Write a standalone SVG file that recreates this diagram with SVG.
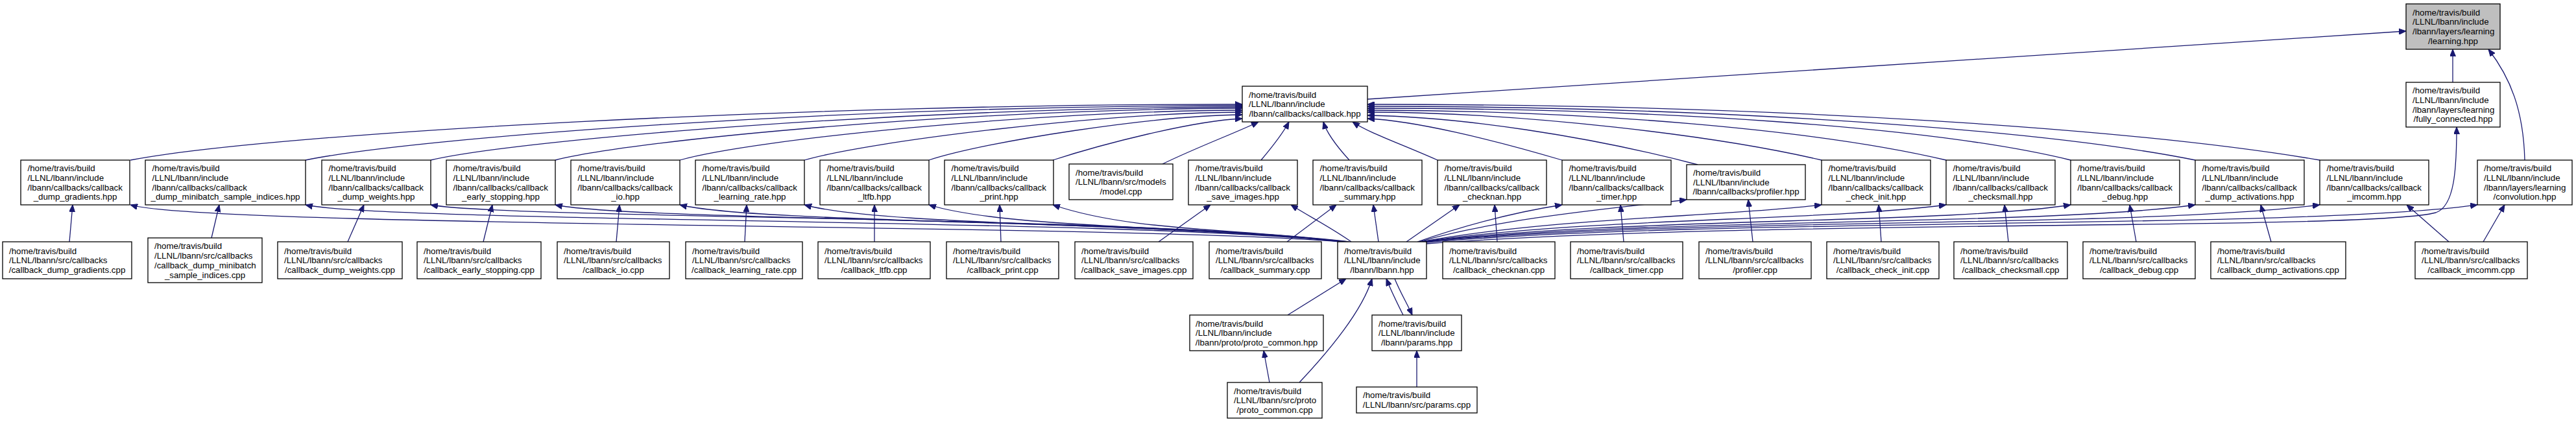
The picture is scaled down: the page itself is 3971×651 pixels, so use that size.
<svg xmlns="http://www.w3.org/2000/svg" width="3971" height="651" viewBox="0 0 3971 651">
<defs>
<style>
.n rect{fill:#fff;stroke:#000;stroke-width:1.3}
.n text{font-family:"Liberation Sans",Arial,Helvetica,sans-serif;font-size:13.3px;fill:#000}
.n .c{text-anchor:middle}
#n_learning rect{fill:#bfbfbf}
.e path{fill:none;stroke:#191970;stroke-width:1.3;marker-end:url(#ah)}
</style>
<marker id="ah" markerUnits="userSpaceOnUse" viewBox="0 0 11 9" refX="11" refY="4.5" markerWidth="11" markerHeight="9" orient="auto"><path d="M0,0L11,4.5L0,9z" fill="#191970" stroke="#191970" stroke-width="1"/></marker>
</defs>
<rect width="3971" height="651" fill="#fff"/>
<g id="connectors" class="e">
<path d="M2108,153L3709,48"/>
<path d="M3781,127L3781,76"/>
<path d="M3892,247C3890,170 3870,120 3836,76"/>
<path d="M201,247C420,205 1250,160 1915,161"/>
<path d="M471,247C640,212 1300,163 1915,163"/>
<path d="M664,247C800,215 1400,166 1915,165"/>
<path d="M856,247C980,215 1500,168 1915,167"/>
<path d="M1048,247C1160,215 1600,171 1915,170"/>
<path d="M1240,247C1340,218 1700,174 1915,173"/>
<path d="M1432,247C1520,218 1780,178 1915,177"/>
<path d="M1623,247C1700,222 1840,186 1915,183"/>
<path d="M1792,253C1850,225 1905,205 1940,188"/>
<path d="M1944,247C1960,228 1978,205 1987,188"/>
<path d="M2080,247C2060,225 2045,205 2040,188"/>
<path d="M2216,247C2160,222 2110,205 2085,188"/>
<path d="M2408,247C2300,215 2180,186 2108,183"/>
<path d="M2617,254C2450,210 2250,180 2108,178"/>
<path d="M2808,247C2650,210 2350,173 2108,173"/>
<path d="M3000,247C2800,200 2450,170 2108,170"/>
<path d="M3192,247C2980,195 2550,167 2108,167"/>
<path d="M3384,247C3150,200 2650,164 2108,164"/>
<path d="M3576,247C3300,200 2750,161 2108,161"/>
<path d="M107,373L112,316"/>
<path d="M326,367L338,316"/>
<path d="M536,373L561,316"/>
<path d="M745,373L759,316"/>
<path d="M950,373L955,316"/>
<path d="M1148,373L1151,316"/>
<path d="M1348,373L1348,316"/>
<path d="M1543,373L1541,316"/>
<path d="M1786,373L1866,316"/>
<path d="M1984,373L2060,316"/>
<path d="M2308,373L2304,316"/>
<path d="M2503,373L2498,316"/>
<path d="M2702,373L2695,308"/>
<path d="M2900,373L2896,316"/>
<path d="M3096,373L3090,316"/>
<path d="M3293,373L3283,316"/>
<path d="M3501,373L3485,316"/>
<path d="M3775,373L3710,316"/>
<path d="M3828,373L3861,316"/>
<path d="M2066,373C1766,346 321,351 201,316"/>
<path d="M2068,373C1768,338 591,343 471,316"/>
<path d="M2070,373C1770,333 784,338 664,316"/>
<path d="M2072,373C1772,336 976,341 856,316"/>
<path d="M2074,373C1774,340 1168,345 1048,316"/>
<path d="M2076,373C1800,344 1360,349 1240,316"/>
<path d="M2078,373C1850,348 1552,353 1432,316"/>
<path d="M2080,373C1900,352 1743,357 1623,316"/>
<path d="M2083,373C2050,350 2020,335 1990,316"/>
<path d="M2125,373L2117,316"/>
<path d="M2168,373L2250,316"/>
<path d="M2185,373C2280,340 2350,325 2408,316"/>
<path d="M2187,373C2320,335 2500,320 2600,308"/>
<path d="M2190,373C2400,335 2650,335 2808,316"/>
<path d="M2192,373C2450,335 2800,342 3000,316"/>
<path d="M2194,373C2500,335 3000,346 3192,316"/>
<path d="M2196,373C2550,335 3150,349 3384,316"/>
<path d="M2197,373C2600,335 3300,352 3576,316"/>
<path d="M2198,374C2650,335 3550,354 3819,316"/>
<path d="M2199,376C2700,338 3650,356 3755,328C3784,318 3787,260 3787,196"/>
<path d="M1985,486L2075,430"/>
<path d="M2003,590C2050,540 2100,480 2115,430"/>
<path d="M1957,590L1948,541"/>
<path d="M2163,486C2155,470 2145,450 2137,430"/>
<path d="M2150,430C2158,450 2170,470 2177,486"/>
<path d="M2184,597L2184,541"/>
</g>
<g id="n_learning" class="n"><rect x="3709" y="6" width="145" height="70"/><text x="3719" y="23.6">/home/travis/build</text><text x="3719" y="38.3">/LLNL/lbann/include</text><text x="3719" y="53">/lbann/layers/learning</text><text class="c" x="3781.5" y="67.7">/learning.hpp</text></g>
<g id="n_callback" class="n"><rect x="1915" y="133" width="193" height="55"/><text x="1925" y="150.5">/home/travis/build</text><text x="1925" y="165.2">/LLNL/lbann/include</text><text class="c" x="2011.5" y="179.9">/lbann/callbacks/callback.hpp</text></g>
<g id="n_fully_connected" class="n"><rect x="3709" y="127" width="145" height="69"/><text x="3719" y="144.2">/home/travis/build</text><text x="3719" y="158.9">/LLNL/lbann/include</text><text x="3719" y="173.6">/lbann/layers/learning</text><text class="c" x="3781.5" y="188.3">/fully_connected.hpp</text></g>
<g id="n_convolution" class="n"><rect x="3819" y="247" width="146" height="69"/><text x="3829" y="264.2">/home/travis/build</text><text x="3829" y="278.9">/LLNL/lbann/include</text><text x="3829" y="293.6">/lbann/layers/learning</text><text class="c" x="3892" y="308.3">/convolution.hpp</text></g>
<g id="n_h_dump_gradients" class="n"><rect x="32" y="247" width="168" height="69"/><text x="42.5" y="264.2">/home/travis/build</text><text x="42.5" y="278.9">/LLNL/lbann/include</text><text x="42.5" y="293.6">/lbann/callbacks/callback</text><text class="c" x="116" y="308.3">_dump_gradients.hpp</text></g>
<g id="n_h_dump_minibatch" class="n"><rect x="224" y="247" width="247" height="69"/><text x="234.5" y="264.2">/home/travis/build</text><text x="234.5" y="278.9">/LLNL/lbann/include</text><text x="234.5" y="293.6">/lbann/callbacks/callback</text><text class="c" x="347.5" y="308.3">_dump_minibatch_sample_indices.hpp</text></g>
<g id="n_h_dump_weights" class="n"><rect x="496" y="247" width="168" height="69"/><text x="506.5" y="264.2">/home/travis/build</text><text x="506.5" y="278.9">/LLNL/lbann/include</text><text x="506.5" y="293.6">/lbann/callbacks/callback</text><text class="c" x="580" y="308.3">_dump_weights.hpp</text></g>
<g id="n_h_early_stopping" class="n"><rect x="688" y="247" width="168" height="69"/><text x="698.5" y="264.2">/home/travis/build</text><text x="698.5" y="278.9">/LLNL/lbann/include</text><text x="698.5" y="293.6">/lbann/callbacks/callback</text><text class="c" x="772" y="308.3">_early_stopping.hpp</text></g>
<g id="n_h_io" class="n"><rect x="880" y="247" width="168" height="69"/><text x="890.5" y="264.2">/home/travis/build</text><text x="890.5" y="278.9">/LLNL/lbann/include</text><text x="890.5" y="293.6">/lbann/callbacks/callback</text><text class="c" x="964" y="308.3">_io.hpp</text></g>
<g id="n_h_learning_rate" class="n"><rect x="1072" y="247" width="168" height="69"/><text x="1082.5" y="264.2">/home/travis/build</text><text x="1082.5" y="278.9">/LLNL/lbann/include</text><text x="1082.5" y="293.6">/lbann/callbacks/callback</text><text class="c" x="1156" y="308.3">_learning_rate.hpp</text></g>
<g id="n_h_ltfb" class="n"><rect x="1264" y="247" width="168" height="69"/><text x="1274.5" y="264.2">/home/travis/build</text><text x="1274.5" y="278.9">/LLNL/lbann/include</text><text x="1274.5" y="293.6">/lbann/callbacks/callback</text><text class="c" x="1348" y="308.3">_ltfb.hpp</text></g>
<g id="n_h_print" class="n"><rect x="1456" y="247" width="168" height="69"/><text x="1466.5" y="264.2">/home/travis/build</text><text x="1466.5" y="278.9">/LLNL/lbann/include</text><text x="1466.5" y="293.6">/lbann/callbacks/callback</text><text class="c" x="1540" y="308.3">_print.hpp</text></g>
<g id="n_model_cpp" class="n"><rect x="1648" y="253" width="160" height="55"/><text x="1658" y="270.5">/home/travis/build</text><text x="1658" y="285.2">/LLNL/lbann/src/models</text><text class="c" x="1728" y="299.9">/model.cpp</text></g>
<g id="n_h_save_images" class="n"><rect x="1832" y="247" width="168" height="69"/><text x="1842.5" y="264.2">/home/travis/build</text><text x="1842.5" y="278.9">/LLNL/lbann/include</text><text x="1842.5" y="293.6">/lbann/callbacks/callback</text><text class="c" x="1916" y="308.3">_save_images.hpp</text></g>
<g id="n_h_summary" class="n"><rect x="2024" y="247" width="168" height="69"/><text x="2034.5" y="264.2">/home/travis/build</text><text x="2034.5" y="278.9">/LLNL/lbann/include</text><text x="2034.5" y="293.6">/lbann/callbacks/callback</text><text class="c" x="2108" y="308.3">_summary.hpp</text></g>
<g id="n_h_checknan" class="n"><rect x="2216" y="247" width="168" height="69"/><text x="2226.5" y="264.2">/home/travis/build</text><text x="2226.5" y="278.9">/LLNL/lbann/include</text><text x="2226.5" y="293.6">/lbann/callbacks/callback</text><text class="c" x="2300" y="308.3">_checknan.hpp</text></g>
<g id="n_h_timer" class="n"><rect x="2408" y="247" width="168" height="69"/><text x="2418.5" y="264.2">/home/travis/build</text><text x="2418.5" y="278.9">/LLNL/lbann/include</text><text x="2418.5" y="293.6">/lbann/callbacks/callback</text><text class="c" x="2492" y="308.3">_timer.hpp</text></g>
<g id="n_h_profiler" class="n"><rect x="2600" y="254" width="183" height="54"/><text x="2610" y="271">/home/travis/build</text><text x="2610" y="285.7">/LLNL/lbann/include</text><text class="c" x="2691.5" y="300.4">/lbann/callbacks/profiler.hpp</text></g>
<g id="n_h_check_init" class="n"><rect x="2808" y="247" width="168" height="69"/><text x="2818.5" y="264.2">/home/travis/build</text><text x="2818.5" y="278.9">/LLNL/lbann/include</text><text x="2818.5" y="293.6">/lbann/callbacks/callback</text><text class="c" x="2892" y="308.3">_check_init.hpp</text></g>
<g id="n_h_checksmall" class="n"><rect x="3000" y="247" width="168" height="69"/><text x="3010.5" y="264.2">/home/travis/build</text><text x="3010.5" y="278.9">/LLNL/lbann/include</text><text x="3010.5" y="293.6">/lbann/callbacks/callback</text><text class="c" x="3084" y="308.3">_checksmall.hpp</text></g>
<g id="n_h_debug" class="n"><rect x="3192" y="247" width="168" height="69"/><text x="3202.5" y="264.2">/home/travis/build</text><text x="3202.5" y="278.9">/LLNL/lbann/include</text><text x="3202.5" y="293.6">/lbann/callbacks/callback</text><text class="c" x="3276" y="308.3">_debug.hpp</text></g>
<g id="n_h_dump_activations" class="n"><rect x="3384" y="247" width="168" height="69"/><text x="3394.5" y="264.2">/home/travis/build</text><text x="3394.5" y="278.9">/LLNL/lbann/include</text><text x="3394.5" y="293.6">/lbann/callbacks/callback</text><text class="c" x="3468" y="308.3">_dump_activations.hpp</text></g>
<g id="n_h_imcomm" class="n"><rect x="3576" y="247" width="168" height="69"/><text x="3586.5" y="264.2">/home/travis/build</text><text x="3586.5" y="278.9">/LLNL/lbann/include</text><text x="3586.5" y="293.6">/lbann/callbacks/callback</text><text class="c" x="3660" y="308.3">_imcomm.hpp</text></g>
<g id="n_c_dump_gradients" class="n"><rect x="4" y="373" width="199" height="57"/><text x="14" y="391.5">/home/travis/build</text><text x="14" y="406.2">/LLNL/lbann/src/callbacks</text><text class="c" x="103.5" y="420.9">/callback_dump_gradients.cpp</text></g>
<g id="n_c_dump_minibatch" class="n"><rect x="228" y="367" width="176" height="69"/><text x="238" y="384.4">/home/travis/build</text><text x="238" y="399.1">/LLNL/lbann/src/callbacks</text><text x="238" y="413.8">/callback_dump_minibatch</text><text class="c" x="316" y="428.5">_sample_indices.cpp</text></g>
<g id="n_c_dump_weights" class="n"><rect x="428" y="373" width="192" height="57"/><text x="438" y="391.5">/home/travis/build</text><text x="438" y="406.2">/LLNL/lbann/src/callbacks</text><text class="c" x="524" y="420.9">/callback_dump_weights.cpp</text></g>
<g id="n_c_early_stopping" class="n"><rect x="643" y="373" width="191" height="57"/><text x="653" y="391.5">/home/travis/build</text><text x="653" y="406.2">/LLNL/lbann/src/callbacks</text><text class="c" x="738.5" y="420.9">/callback_early_stopping.cpp</text></g>
<g id="n_c_io" class="n"><rect x="859" y="373" width="173" height="57"/><text x="869" y="391.5">/home/travis/build</text><text x="869" y="406.2">/LLNL/lbann/src/callbacks</text><text class="c" x="945.5" y="420.9">/callback_io.cpp</text></g>
<g id="n_c_learning_rate" class="n"><rect x="1057" y="373" width="180" height="57"/><text x="1067" y="391.5">/home/travis/build</text><text x="1067" y="406.2">/LLNL/lbann/src/callbacks</text><text class="c" x="1147" y="420.9">/callback_learning_rate.cpp</text></g>
<g id="n_c_ltfb" class="n"><rect x="1261" y="373" width="173" height="57"/><text x="1271" y="391.5">/home/travis/build</text><text x="1271" y="406.2">/LLNL/lbann/src/callbacks</text><text class="c" x="1347.5" y="420.9">/callback_ltfb.cpp</text></g>
<g id="n_c_print" class="n"><rect x="1459" y="373" width="173" height="57"/><text x="1469" y="391.5">/home/travis/build</text><text x="1469" y="406.2">/LLNL/lbann/src/callbacks</text><text class="c" x="1545.5" y="420.9">/callback_print.cpp</text></g>
<g id="n_c_save_images" class="n"><rect x="1657" y="373" width="182" height="57"/><text x="1667" y="391.5">/home/travis/build</text><text x="1667" y="406.2">/LLNL/lbann/src/callbacks</text><text class="c" x="1748" y="420.9">/callback_save_images.cpp</text></g>
<g id="n_c_summary" class="n"><rect x="1864" y="373" width="173" height="57"/><text x="1874" y="391.5">/home/travis/build</text><text x="1874" y="406.2">/LLNL/lbann/src/callbacks</text><text class="c" x="1950.5" y="420.9">/callback_summary.cpp</text></g>
<g id="n_lbann" class="n"><rect x="2062" y="373" width="137" height="57"/><text x="2072" y="391.5">/home/travis/build</text><text x="2072" y="406.2">/LLNL/lbann/include</text><text class="c" x="2130.5" y="420.9">/lbann/lbann.hpp</text></g>
<g id="n_c_checknan" class="n"><rect x="2224" y="373" width="173" height="57"/><text x="2234" y="391.5">/home/travis/build</text><text x="2234" y="406.2">/LLNL/lbann/src/callbacks</text><text class="c" x="2310.5" y="420.9">/callback_checknan.cpp</text></g>
<g id="n_c_timer" class="n"><rect x="2421" y="373" width="173" height="57"/><text x="2431" y="391.5">/home/travis/build</text><text x="2431" y="406.2">/LLNL/lbann/src/callbacks</text><text class="c" x="2507.5" y="420.9">/callback_timer.cpp</text></g>
<g id="n_c_profiler" class="n"><rect x="2619" y="373" width="173" height="57"/><text x="2629" y="391.5">/home/travis/build</text><text x="2629" y="406.2">/LLNL/lbann/src/callbacks</text><text class="c" x="2705.5" y="420.9">/profiler.cpp</text></g>
<g id="n_c_check_init" class="n"><rect x="2816" y="373" width="173" height="57"/><text x="2826" y="391.5">/home/travis/build</text><text x="2826" y="406.2">/LLNL/lbann/src/callbacks</text><text class="c" x="2902.5" y="420.9">/callback_check_init.cpp</text></g>
<g id="n_c_checksmall" class="n"><rect x="3012" y="373" width="175" height="57"/><text x="3022" y="391.5">/home/travis/build</text><text x="3022" y="406.2">/LLNL/lbann/src/callbacks</text><text class="c" x="3099.5" y="420.9">/callback_checksmall.cpp</text></g>
<g id="n_c_debug" class="n"><rect x="3211" y="373" width="173" height="57"/><text x="3221" y="391.5">/home/travis/build</text><text x="3221" y="406.2">/LLNL/lbann/src/callbacks</text><text class="c" x="3297.5" y="420.9">/callback_debug.cpp</text></g>
<g id="n_c_dump_activations" class="n"><rect x="3408" y="373" width="208" height="57"/><text x="3418" y="391.5">/home/travis/build</text><text x="3418" y="406.2">/LLNL/lbann/src/callbacks</text><text class="c" x="3512" y="420.9">/callback_dump_activations.cpp</text></g>
<g id="n_c_imcomm" class="n"><rect x="3723" y="373" width="173" height="57"/><text x="3733" y="391.5">/home/travis/build</text><text x="3733" y="406.2">/LLNL/lbann/src/callbacks</text><text class="c" x="3809.5" y="420.9">/callback_imcomm.cpp</text></g>
<g id="n_proto_common_hpp" class="n"><rect x="1834" y="486" width="206" height="55"/><text x="1843" y="503.5">/home/travis/build</text><text x="1843" y="518.2">/LLNL/lbann/include</text><text class="c" x="1937" y="532.9">/lbann/proto/proto_common.hpp</text></g>
<g id="n_params_hpp" class="n"><rect x="2115" y="486" width="138" height="55"/><text x="2125" y="503.5">/home/travis/build</text><text x="2125" y="518.2">/LLNL/lbann/include</text><text class="c" x="2184" y="532.9">/lbann/params.hpp</text></g>
<g id="n_proto_common_cpp" class="n"><rect x="1892" y="590" width="146" height="55"/><text x="1902" y="607.5">/home/travis/build</text><text x="1902" y="622.2">/LLNL/lbann/src/proto</text><text class="c" x="1965" y="636.9">/proto_common.cpp</text></g>
<g id="n_params_cpp" class="n"><rect x="2091" y="597" width="186" height="40"/><text x="2101" y="614.4">/home/travis/build</text><text class="c" x="2184" y="629.1">/LLNL/lbann/src/params.cpp</text></g>
</svg>
